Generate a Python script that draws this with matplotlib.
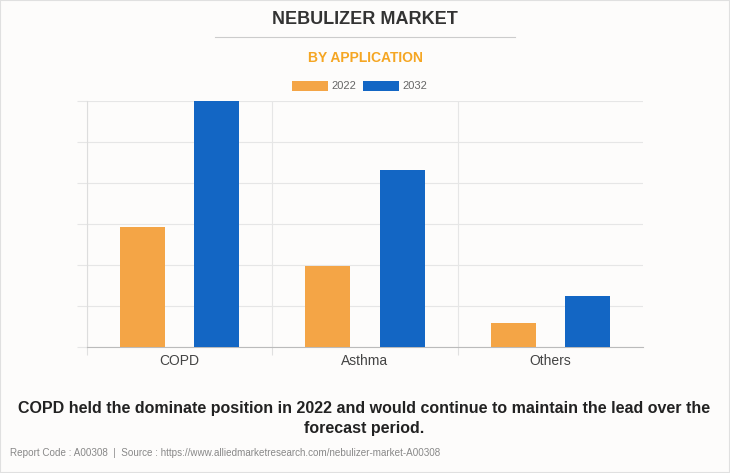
import numpy as np
import matplotlib.pyplot as plt
from matplotlib.patches import Rectangle

plt.rcParams['font.family'] = ['Liberation Sans', 'DejaVu Sans']

# data (no value axis shown, arbitrary units)
categories = ['COPD', 'Asthma', 'Others']
years = ['2022', '2032']
val_2022 = [2.93, 1.98, 0.59]
val_2032 = [6.0, 4.32, 1.24]

orange = '#F4A546'
blue = '#1366C4'
bg = '#fdfcfb'

fig = plt.figure(figsize=(7.3, 4.73), dpi=100, facecolor=bg)
W, H = 730, 473

ax = fig.add_axes([87 / W, 1 - 347 / H, (643 - 87) / W, (347 - 101) / H])
ax.set_facecolor(bg)
x = np.arange(len(categories))
bw = 0.243
off = 0.2
ax.bar(x - off, val_2022, bw, color=orange, label=years[0], zorder=3)
ax.bar(x + off, val_2032, bw, color=blue, label=years[1], zorder=3)

ax.set_xlim(-0.5, 2.5)
ax.set_ylim(0, 6)
ax.set_yticks(np.arange(0, 7, 1))
ax.set_yticklabels([])
ax.yaxis.grid(True, color='#e6e6e6', linewidth=0.8, zorder=0)
ax.set_xticks(x)
ax.set_xticklabels(categories, fontsize=10, color='#444444')
ax.set_xticks([-0.5, 0.5, 1.5], minor=True)
ax.xaxis.grid(True, which='minor', color='#e6e6e6', linewidth=0.8, zorder=0)
ax.tick_params(axis='x', which='major', length=0, pad=5)
ax.tick_params(axis='x', which='minor', length=6, color='#e0e0e0', width=0.8)
ax.tick_params(axis='y', length=7.2, color='#e6e6e6', width=0.8)
for s in ['top', 'right']:
    ax.spines[s].set_visible(False)
ax.spines['left'].set_color('#dddddd')
ax.spines['bottom'].set_color('#bbbbbb')

# titles
fig.text(365 / W, 1 - 20 / H, 'NEBULIZER MARKET', ha='center', va='center',
         fontsize=13, fontweight='bold', color='#333333')
fig.add_artist(plt.Line2D([215 / W, 515 / W], [1 - 37 / H, 1 - 37 / H],
                          color='#cccccc', linewidth=0.8))
fig.text(365 / W, 1 - 58 / H, 'BY APPLICATION', ha='center', va='center',
         fontsize=10, fontweight='bold', color='#F5A623')

# legend
leg = fig.legend(loc='center', bbox_to_anchor=(360 / W, 1 - 86 / H), ncol=2,
                 frameon=False, fontsize=8, handlelength=3.2, handleheight=1.0,
                 columnspacing=0.6, handletextpad=0.35)
for t in leg.get_texts():
    t.set_color('#666666')

fig.text(364 / W, 1 - 408 / H,
         'COPD held the dominate position in 2022 and would continue to maintain the lead over the',
         ha='center', va='center', fontsize=11.55, fontweight='bold', color='#222222')
fig.text(364 / W, 1 - 428 / H, 'forecast period.', ha='center', va='center',
         fontsize=11.55, fontweight='bold', color='#222222')
fig.text(10 / W, 1 - 453 / H,
         'Report Code : A00308  |  Source : https://www.alliedmarketresearch.com/nebulizer-market-A00308',
         ha='left', va='center', fontsize=7.15, color='#888888')

fig.add_artist(Rectangle((0, 0), 1, 1, transform=fig.transFigure, fill=False,
                         edgecolor='#e0e0e0', linewidth=1.5))

fig.savefig('out.png', dpi=100, facecolor=bg)
